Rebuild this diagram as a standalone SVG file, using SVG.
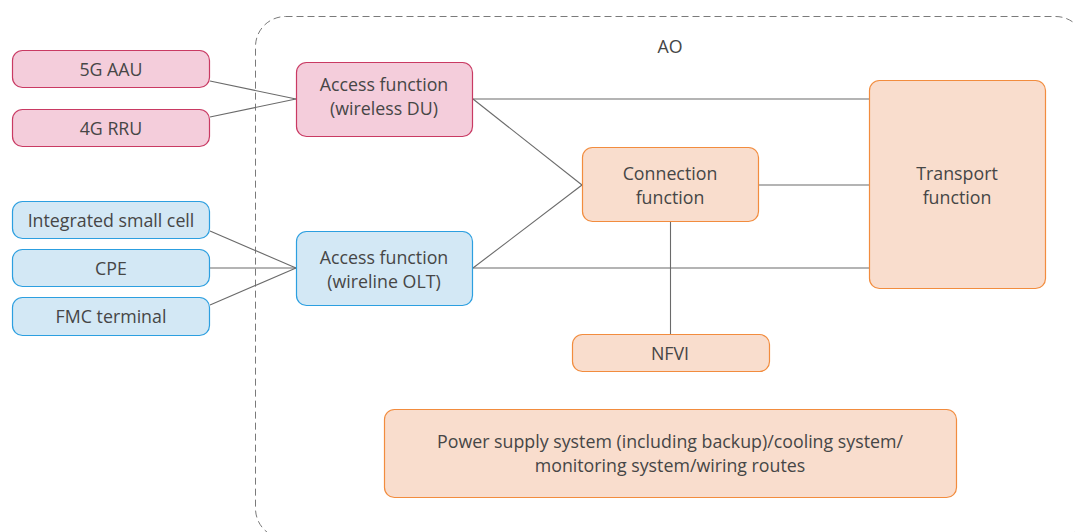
<svg xmlns="http://www.w3.org/2000/svg" width="1075" height="532" viewBox="0 0 1075 532">
  <style>
    .txt { font-family: "Open Sans", "Liberation Sans", sans-serif; font-size: 17.8px; fill: #464646; text-anchor: middle; dominant-baseline: central; }
    .pink { fill: #f4cddb; stroke: #c93a63; stroke-width: 1.2; }
    .blue { fill: #d3e8f5; stroke: #2c9fe0; stroke-width: 1.2; }
    .orange { fill: #f9ddcd; stroke: #f28c3e; stroke-width: 1.2; }
    .link { stroke: #6a6a6a; stroke-width: 1.1; fill: none; }
    .frame { fill: none; stroke: #7a7a7a; stroke-width: 1; stroke-dasharray: 7 4; }
  </style>

  <!-- AO boundary -->
  <g id="ao">
    <rect class="frame" x="255.5" y="16.5" width="830" height="522" rx="30"/>
    <text class="txt" x="670" y="46">AO</text>
  </g>

  <!-- connectors -->
  <g id="connectors">
    <line class="link" x1="210" y1="81" x2="296" y2="99"/>
    <line class="link" x1="210" y1="117" x2="296" y2="99"/>
    <line class="link" x1="210" y1="231" x2="296" y2="268"/>
    <line class="link" x1="210" y1="268" x2="296" y2="268"/>
    <line class="link" x1="210" y1="305" x2="296" y2="268"/>
    <line class="link" x1="473" y1="99" x2="869" y2="99"/>
    <line class="link" x1="473" y1="268" x2="869" y2="268"/>
    <line class="link" x1="473" y1="99" x2="582" y2="185"/>
    <line class="link" x1="473" y1="268" x2="582" y2="185"/>
    <line class="link" x1="759" y1="185" x2="869" y2="185"/>
    <line class="link" x1="670.5" y1="222" x2="670.5" y2="334"/>
  </g>

  <!-- radio units -->
  <g id="aau5g">
    <rect class="pink" x="12.5" y="50.5" width="197" height="37" rx="10"/>
    <text class="txt" x="111" y="69">5G AAU</text>
  </g>
  <g id="rru4g">
    <rect class="pink" x="12.5" y="109.5" width="197" height="37" rx="10"/>
    <text class="txt" x="111" y="128">4G RRU</text>
  </g>

  <!-- wireline terminals -->
  <g id="small-cell">
    <rect class="blue" x="12.5" y="201.5" width="197" height="37" rx="10"/>
    <text class="txt" x="111" y="220">Integrated small cell</text>
  </g>
  <g id="cpe">
    <rect class="blue" x="12.5" y="249.5" width="197" height="37" rx="10"/>
    <text class="txt" x="111" y="268">CPE</text>
  </g>
  <g id="fmc">
    <rect class="blue" x="12.5" y="297.5" width="197" height="38" rx="10"/>
    <text class="txt" x="111" y="316">FMC terminal</text>
  </g>

  <!-- access functions -->
  <g id="access-du">
    <rect class="pink" x="296.5" y="62.5" width="176" height="74" rx="10"/>
    <text class="txt" x="384" y="84">Access function</text>
    <text class="txt" x="384" y="108">(wireless DU)</text>
  </g>
  <g id="access-olt">
    <rect class="blue" x="296.5" y="231.5" width="176" height="74" rx="10"/>
    <text class="txt" x="384" y="257">Access function</text>
    <text class="txt" x="384" y="281">(wireline OLT)</text>
  </g>

  <!-- core functions -->
  <g id="connection">
    <rect class="orange" x="582.5" y="147.5" width="176" height="74" rx="10"/>
    <text class="txt" x="670" y="173">Connection</text>
    <text class="txt" x="670" y="197">function</text>
  </g>
  <g id="transport">
    <rect class="orange" x="869.5" y="80.5" width="176" height="208" rx="10"/>
    <text class="txt" x="957" y="173">Transport</text>
    <text class="txt" x="957" y="197">function</text>
  </g>
  <g id="nfvi">
    <rect class="orange" x="572.5" y="334.5" width="197" height="37" rx="10"/>
    <text class="txt" x="670" y="353">NFVI</text>
  </g>

  <!-- facilities -->
  <g id="facilities">
    <rect class="orange" x="384.5" y="409.5" width="572" height="88" rx="10"/>
    <text class="txt" x="670" y="441">Power supply system (including backup)/cooling system/</text>
    <text class="txt" x="670" y="465">monitoring system/wiring routes</text>
  </g>
</svg>
